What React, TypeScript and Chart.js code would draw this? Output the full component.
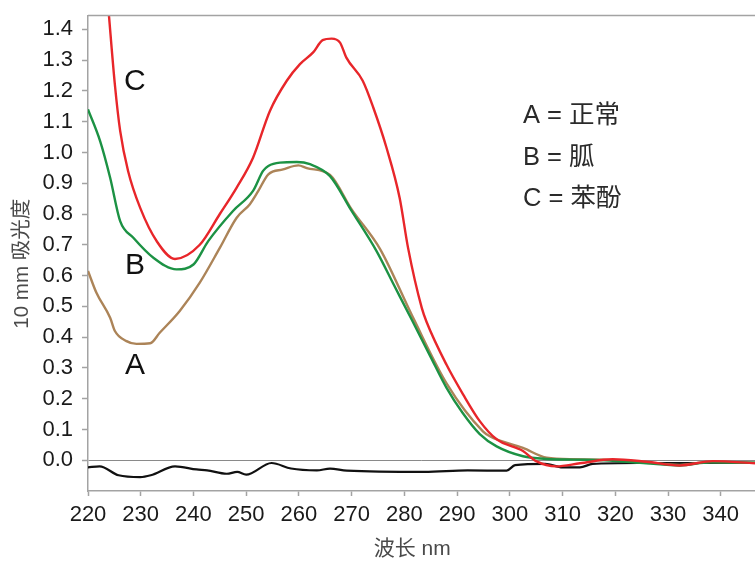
import React, { useEffect, useRef } from 'react';
import { Chart, registerables } from 'chart.js';

Chart.register(...registerables);

// ---- axis ticks ----
const xTicks = [220, 230, 240, 250, 260, 270, 280, 290, 300, 310, 320, 330, 340];
const yTicks = [0, 0.1, 0.2, 0.3, 0.4, 0.5, 0.6, 0.7, 0.8, 0.9, 1.0, 1.1, 1.2, 1.3, 1.4];
const xTitle = '波长 nm';
const yTitle = '10 mm 吸光度';

// ---- A = 正常 (brown) ----
const nmA = [220, 221.6, 224.2, 225.1, 227.3, 229.2, 231.8, 233.6, 237.4, 241.2, 245, 248.2, 250.7, 252.3, 254.2, 257, 259.9, 261.5, 265.9, 270, 275.4, 281.6, 288, 294.9, 296.2, 302.5, 307, 312, 318, 325.9, 332.2, 338, 346.5];
const absA = [0.615, 0.544, 0.463, 0.42, 0.387, 0.378, 0.38, 0.414, 0.485, 0.577, 0.69, 0.788, 0.832, 0.875, 0.929, 0.945, 0.958, 0.949, 0.927, 0.815, 0.686, 0.465, 0.25, 0.094, 0.078, 0.04, 0.008, 0.003, 0.002, -0.008, -0.015, -0.006, -0.008];

// ---- B = 胍 (green) ----
const nmB = [220, 222.3, 224.2, 226.1, 228.6, 232.4, 236.8, 240, 242.8, 247.5, 251.3, 253.2, 254.2, 256.4, 259.6, 262.1, 265.9, 270, 274.7, 278, 281.6, 285, 288, 291, 294.3, 297.5, 302.5, 307, 312, 318, 325.9, 332.2, 338, 346.5];
const absB = [1.14, 1.037, 0.918, 0.777, 0.723, 0.658, 0.62, 0.636, 0.712, 0.81, 0.875, 0.94, 0.956, 0.967, 0.969, 0.962, 0.923, 0.81, 0.68, 0.57, 0.45, 0.335, 0.235, 0.155, 0.085, 0.045, 0.013, 0.004, 0.002, 0.0, -0.01, -0.017, -0.007, -0.008];

// ---- C = 苯酚 (red) ----
const nmC = [222, 223, 224, 225.1, 226.1, 227.6, 229.9, 233.1, 236.5, 241.2, 245, 248.2, 251.3, 254.5, 257.7, 260.2, 262.7, 264.5, 266.2, 267.8, 269, 272.1, 274.1, 276.6, 279.1, 280.7, 283.3, 284.2, 288, 291.1, 294.3, 297.5, 302.5, 305, 308.8, 313.3, 319.5, 325.9, 332.2, 338.5, 346.5];
const absC = [1.85, 1.65, 1.44, 1.22, 1.07, 0.94, 0.82, 0.71, 0.654, 0.7, 0.8, 0.886, 0.983, 1.135, 1.233, 1.287, 1.325, 1.365, 1.37, 1.357, 1.308, 1.233, 1.146, 1.016, 0.853, 0.69, 0.495, 0.45, 0.31, 0.215, 0.127, 0.068, 0.03, -0.003, -0.02, -0.01, 0.003, -0.005, -0.017, -0.003, -0.01];

// ---- difference (black) ----
const nmD = [220, 222.2, 225.8, 229.9, 231.9, 236.5, 240.6, 242.6, 246.3, 248.3, 250, 254.8, 258.5, 263.4, 265.9, 269.1, 283.8, 292, 299.4, 301, 306.7, 310, 313.3, 315.7, 324.4, 346.5];
const absD = [-0.023, -0.02, -0.049, -0.055, -0.049, -0.02, -0.03, -0.033, -0.044, -0.038, -0.047, -0.009, -0.027, -0.033, -0.027, -0.034, -0.038, -0.033, -0.034, -0.016, -0.012, -0.023, -0.023, -0.012, -0.009, -0.009];

// ---- text annotations ----
const curveLetters = ['C', 'B', 'A'];
const curveLetterX = [228.9, 228.9, 228.9];
const curveLetterY = [1.229, 0.631, 0.306];
const legendLines = ['A = 正常', 'B = 胍', 'C = 苯酚'];
const legendX = 302.5;
const legendY = [1.118, 0.983, 0.85];

const toPts = (xs: number[], ys: number[]) => xs.map((x, i) => ({ x, y: ys[i] }));

const SANS = '"Liberation Sans", Arial, "Noto Sans CJK SC", sans-serif';
const AXIS_GRAY = '#a3a3a3';

const annotPlugin = {
  id: 'annot',
  afterDatasetsDraw(chart: any) {
    const { ctx, chartArea, scales } = chart;
    const x = scales.x;
    const y = scales.y;
    ctx.save();
    // top frame line
    ctx.strokeStyle = AXIS_GRAY;
    ctx.lineWidth = 1.5;
    ctx.beginPath();
    ctx.moveTo(chartArea.left, chartArea.top);
    ctx.lineTo(chartArea.right, chartArea.top);
    ctx.stroke();
    // curve letters
    ctx.fillStyle = '#111';
    ctx.font = `30px ${SANS}`;
    ctx.textAlign = 'center';
    ctx.textBaseline = 'middle';
    curveLetters.forEach((t, i) => {
      ctx.fillText(t, x.getPixelForValue(curveLetterX[i]), y.getPixelForValue(curveLetterY[i]));
    });
    // legend text
    ctx.fillStyle = '#2a2a2a';
    ctx.font = `25.5px ${SANS}`;
    ctx.textAlign = 'left';
    legendLines.forEach((t, i) => {
      ctx.fillText(t, x.getPixelForValue(legendX), y.getPixelForValue(legendY[i]));
    });
    ctx.restore();
  },
  afterDraw(chart: any) {
    const { ctx, chartArea } = chart;
    ctx.save();
    ctx.fillStyle = '#4a4a4a';
    ctx.textAlign = 'center';
    ctx.textBaseline = 'middle';
    // x-axis title
    ctx.font = `21px ${SANS}`;
    ctx.fillText(xTitle, chartArea.left + (chartArea.right - chartArea.left) * 0.486, chart.height - 13);
    // y-axis title (rotated)
    ctx.font = `20.5px ${SANS}`;
    ctx.translate(22, chartArea.top + (chartArea.bottom - chartArea.top) * 0.522);
    ctx.rotate(-Math.PI / 2);
    ctx.fillText(yTitle, 0, 0);
    ctx.restore();
  },
};

export default function App() {
  const ref = useRef<HTMLCanvasElement | null>(null);
  useEffect(() => {
    document.body.style.margin = '0';
    const canvas = ref.current;
    if (!canvas) return;
    const chart = new Chart(canvas, {
      type: 'line',
      data: {
        datasets: [
          { label: 'C', data: toPts(nmC, absC), borderColor: 'rgb(232,38,42)', borderWidth: 2.4, order: 0 },
          { label: 'B', data: toPts(nmB, absB), borderColor: 'rgb(28,146,68)', borderWidth: 2.4, order: 1 },
          { label: 'A', data: toPts(nmA, absA), borderColor: 'rgb(172,132,88)', borderWidth: 2.4, order: 2 },
          { label: 'D', data: toPts(nmD, absD), borderColor: '#111', borderWidth: 2.2, order: 3 },
        ] as any,
      },
      options: {
        responsive: false,
        animation: false,
        devicePixelRatio: 1,
        layout: { padding: { top: 15.5, right: 0, left: 0, bottom: 0 } },
        elements: {
          point: { radius: 0 },
          line: { cubicInterpolationMode: 'monotone', fill: false },
        },
        plugins: { legend: { display: false }, tooltip: { enabled: false } },
        scales: {
          x: {
            type: 'linear',
            min: 220,
            max: 346.5,
            afterBuildTicks: (s: any) => { s.ticks = xTicks.map((v) => ({ value: v })); },
            afterFit: (s: any) => { s.height = 71; s.paddingLeft = 0; s.paddingRight = 0; },
            ticks: {
              color: '#1a1a1a',
              font: { family: SANS, size: 22 },
              padding: 6,
              maxRotation: 0,
              callback: (v: any) => String(v),
            },
            grid: { drawOnChartArea: false, tickLength: 5, tickColor: AXIS_GRAY, tickWidth: 1.5 },
            border: { color: AXIS_GRAY, width: 1.5 },
          },
          y: {
            type: 'linear',
            min: -0.1,
            max: 1.445,
            afterBuildTicks: (s: any) => { s.ticks = yTicks.map((v) => ({ value: v })); },
            afterFit: (s: any) => { s.width = 88; s.paddingTop = 0; s.paddingBottom = 0; },
            ticks: {
              color: '#1a1a1a',
              font: { family: SANS, size: 22 },
              padding: 9,
              callback: (v: any) => Number(v).toFixed(1),
            },
            grid: {
              drawOnChartArea: true,
              color: (c: any) => (c.tick && Math.abs(c.tick.value) < 1e-9 ? '#8a8a8a' : 'rgba(0,0,0,0)'),
              lineWidth: 1,
              tickLength: 6,
              tickColor: AXIS_GRAY,
              tickWidth: 1.5,
            },
            border: { color: AXIS_GRAY, width: 1.5 },
          },
        },
      } as any,
      plugins: [annotPlugin],
    });
    return () => chart.destroy();
  }, []);
  return <canvas ref={ref} width={755} height={562} style={{ display: 'block' }} />;
}
